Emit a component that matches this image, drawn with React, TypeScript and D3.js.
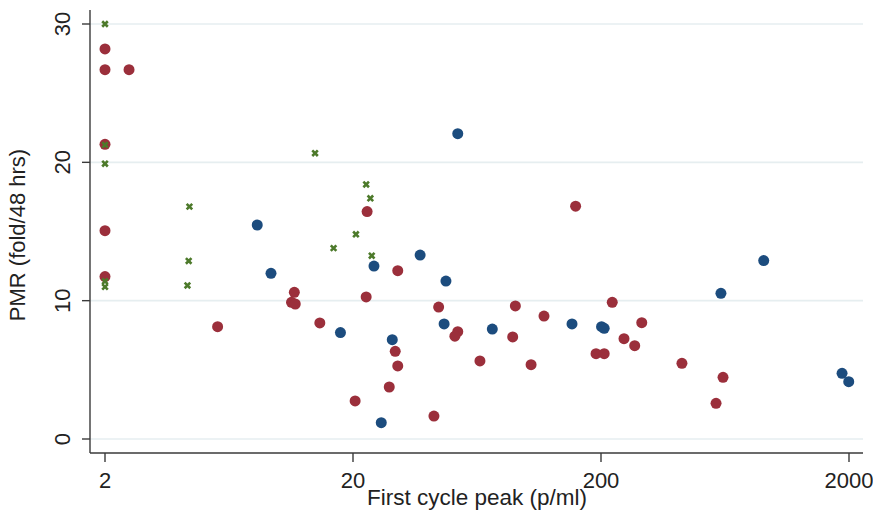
import React from "react";
import * as d3 from "d3";

// Data
const redX = [2, 2, 2.5, 2, 2, 2, 5.69, 11.6, 11.3, 11.7, 14.7, 22.6, 30.3, 22.8, 158, 44.3, 52.9, 51.5, 29.6, 30.3, 28.0, 20.4, 42.4, 65.0, 90.3, 88.1, 117.8, 104.5, 191, 206, 222, 247.6, 273.5, 292, 424, 621, 582];
const redY = [28.2, 26.7, 26.7, 21.3, 15.06, 11.74, 8.12, 10.6, 9.88, 9.76, 8.39, 10.27, 12.17, 16.44, 16.83, 9.54, 7.76, 7.43, 6.34, 5.28, 3.76, 2.75, 1.66, 5.64, 9.62, 7.38, 8.89, 5.37, 6.17, 6.17, 9.88, 7.25, 6.75, 8.41, 5.47, 4.46, 2.58];

const blueX = [8.22, 9.34, 52.9, 37.3, 24.3, 47.4, 17.8, 28.8, 46.6, 72.9, 26.0, 152.8, 201, 206, 609, 906, 1875, 1995];
const blueY = [15.47, 11.98, 22.07, 13.3, 12.5, 11.42, 7.69, 7.18, 8.32, 7.95, 1.18, 8.32, 8.12, 8.0, 10.53, 12.9, 4.75, 4.14];

const greenX = [2, 2, 2, 4.38, 2, 2, 4.35, 4.3, 14.06, 22.6, 23.5, 20.55, 16.7, 23.8];
const greenY = [30, 21.26, 19.9, 16.8, 11.4, 11.0, 12.87, 11.1, 20.66, 18.4, 17.4, 14.8, 13.8, 13.25];

const xTicks = [2, 20, 200, 2000];
const yTicks = [0, 10, 20, 30];

const xTitle = "First cycle peak (p/ml)";
const yTitle = "PMR (fold/48 hrs)";

const W = 873;
const H = 515;
const FONT = "'Liberation Sans', Arial, sans-serif";

export default function App() {
  const x = d3.scaleLog().domain([2, 2000]).range([105, 849]);
  const y = d3.scaleLinear().domain([0, 30]).range([439, 24]);
  const plotLeft = 90;
  const plotRight = 863;
  const axisY = 453;

  const red = redX.map((v, i) => [v, redY[i]]);
  const blue = blueX.map((v, i) => [v, blueY[i]]);
  const green = greenX.map((v, i) => [v, greenY[i]]);

  const cross = d3.symbol().type(d3.symbolX).size(22)() as string;

  return (
    <svg
      width={W}
      height={H}
      style={{ position: "absolute", left: 0, top: 0, background: "#fff" }}
      fontFamily={FONT}
    >
      {/* gridlines */}
      {yTicks.map((t) => (
        <line key={"g" + t} x1={plotLeft} x2={plotRight} y1={y(t)} y2={y(t)} stroke="#e6eef0" strokeWidth={1.6} />
      ))}
      {/* axes */}
      <line x1={plotLeft} x2={plotLeft} y1={10} y2={axisY} stroke="#3a3a3a" strokeWidth={1.4} />
      <line x1={plotLeft} x2={plotRight} y1={axisY} y2={axisY} stroke="#3a3a3a" strokeWidth={1.4} />
      {yTicks.map((t) => (
        <g key={"yt" + t}>
          <line x1={82} x2={plotLeft} y1={y(t)} y2={y(t)} stroke="#3a3a3a" strokeWidth={1.4} />
          <text
            transform={`translate(70,${y(t)}) rotate(-90)`}
            textAnchor="middle"
            fontSize={22}
            fill="#222"
          >
            {t}
          </text>
        </g>
      ))}
      {xTicks.map((t) => (
        <g key={"xt" + t}>
          <line x1={x(t)} x2={x(t)} y1={axisY} y2={462} stroke="#3a3a3a" strokeWidth={1.4} />
          <text x={x(t)} y={488} textAnchor="middle" fontSize={22} fill="#222">
            {t}
          </text>
        </g>
      ))}
      <text x={477} y={505} textAnchor="middle" fontSize={22.5} fill="#222">
        {xTitle}
      </text>
      <text transform={`translate(25,235) rotate(-90)`} textAnchor="middle" fontSize={22} fill="#222">
        {yTitle}
      </text>
      {/* points */}
      {red.map((d, i) => (
        <circle key={"r" + i} cx={x(d[0])} cy={y(d[1])} r={5.5} fill="#9b2f3b" />
      ))}
      {blue.map((d, i) => (
        <circle key={"b" + i} cx={x(d[0])} cy={y(d[1])} r={5.5} fill="#1c4c7e" />
      ))}
      {green.map((d, i) => (
        <path
          key={"gx" + i}
          d={cross}
          transform={`translate(${x(d[0])},${y(d[1])})`}
          fill="none"
          stroke="#4d7a2b"
          strokeWidth={2.6}
        />
      ))}
    </svg>
  );
}
